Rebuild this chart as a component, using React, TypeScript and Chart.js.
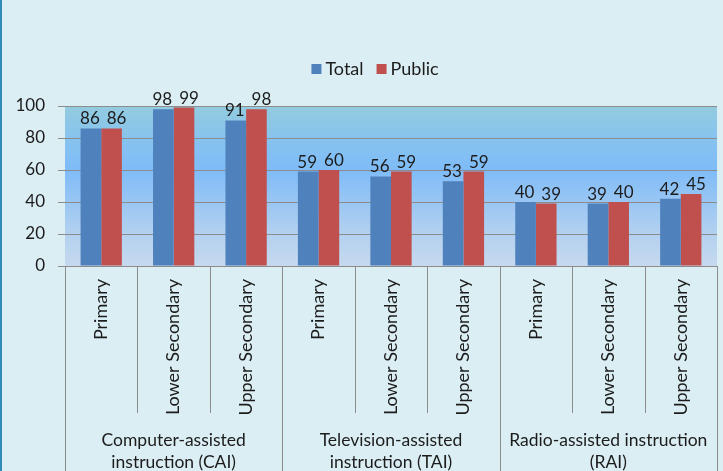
import React, { useEffect, useRef } from 'react';
import { Chart, registerables } from 'chart.js';

Chart.register(...registerables);

const groupLabels: string[][] = [
  ['Computer-assisted', 'instruction (CAI)'],
  ['Television-assisted', 'instruction (TAI)'],
  ['Radio-assisted instruction', '(RAI)'],
];
const levelLabels: string[] = ['Primary', 'Lower Secondary', 'Upper Secondary'];
const categories: string[] = groupLabels.flatMap(() => levelLabels);
const totalValues: number[] = [86, 98, 91, 59, 56, 53, 40, 39, 42];
const publicValues: number[] = [86, 99, 98, 60, 59, 59, 39, 40, 45];
const seriesNames: string[] = ['Total', 'Public'];
const seriesColors: string[] = ['#4f81bd', '#c0504d'];
const yMin = 0;
const yMax = 100;
const yStep = 20;

const FONT = 'Lato, "Open Sans", sans-serif';
const TEXT = '#1c1c1c';
const LINE = '#8c8c8c';

const plotBg = {
  id: 'plotBg',
  beforeDraw(chart: any) {
    const { ctx, chartArea: a } = chart;
    const g = ctx.createLinearGradient(0, a.top, 0, a.bottom);
    g.addColorStop(0, '#93cbde');
    g.addColorStop(0.2, '#87c3ee');
    g.addColorStop(0.4, '#7fbcf8');
    g.addColorStop(0.6, '#99c6f3');
    g.addColorStop(0.8, '#b3d1f0');
    g.addColorStop(1, '#c6d9ee');
    ctx.save();
    ctx.fillStyle = g;
    ctx.fillRect(a.left, a.top, a.right - a.left, a.bottom - a.top);
    ctx.restore();
  },
};

const customLegend = {
  id: 'customLegend',
  afterDraw(chart: any) {
    const { ctx } = chart;
    ctx.save();
    ctx.font = `18px ${FONT}`;
    ctx.textBaseline = 'middle';
    ctx.textAlign = 'left';
    const box = 10;
    const gap = 4;
    const spacing = 13;
    const items = chart.data.datasets.map((ds: any) => ({
      label: ds.label,
      color: ds.backgroundColor,
      w: box + gap + ctx.measureText(ds.label).width,
    }));
    const total = items.reduce((s: number, it: any) => s + it.w, 0) + spacing * (items.length - 1);
    const cx = 373;
    const cy = 69;
    let x = cx - total / 2;
    items.forEach((it: any) => {
      ctx.fillStyle = it.color;
      ctx.fillRect(x, cy - box / 2, box, box);
      ctx.fillStyle = TEXT;
      ctx.fillText(it.label, x + box + gap, cy);
      x += it.w + spacing;
    });
    ctx.restore();
  },
};

const axisGroups = {
  id: 'axisGroups',
  afterDraw(chart: any) {
    const { ctx, chartArea: a, scales } = chart;
    const x = scales.x;
    const n = categories.length;
    const step = (a.right - a.left) / n;
    ctx.save();
    ctx.strokeStyle = LINE;
    ctx.lineWidth = 1;
    for (let i = 0; i <= n; i++) {
      const px = Math.round(x.getPixelForValue(0) - step / 2 + i * step) + 0.5;
      const isGroup = i % levelLabels.length === 0;
      ctx.beginPath();
      ctx.moveTo(px, a.bottom);
      ctx.lineTo(px, isGroup ? chart.height : a.bottom + 147);
      ctx.stroke();
    }
    ctx.fillStyle = TEXT;
    ctx.font = `17.5px ${FONT}`;
    ctx.textAlign = 'center';
    ctx.textBaseline = 'middle';
    groupLabels.forEach((lines, gi) => {
      const start = x.getPixelForValue(gi * levelLabels.length) - step / 2;
      const cx = start + (step * levelLabels.length) / 2;
      lines.forEach((t, li) => {
        ctx.fillText(t, cx, a.bottom + 174 + li * 22);
      });
    });
    ctx.restore();
  },
};

const dataLabels = {
  id: 'dataLabels',
  afterDatasetsDraw(chart: any) {
    const { ctx } = chart;
    ctx.save();
    ctx.fillStyle = TEXT;
    ctx.font = `17px ${FONT}`;
    ctx.textAlign = 'center';
    ctx.textBaseline = 'bottom';
    chart.data.datasets.forEach((ds: any, di: number) => {
      const meta = chart.getDatasetMeta(di);
      const dx = di === 0 ? -1 : 5;
      meta.data.forEach((bar: any, i: number) => {
        ctx.fillText(String(ds.data[i]), bar.x + dx, bar.y - 1);
      });
    });
    ctx.restore();
  },
};

export default function App() {
  const ref = useRef<HTMLCanvasElement>(null);
  useEffect(() => {
    const canvas = ref.current!;
    const chart = new Chart(canvas, {
      type: 'bar',
      data: {
        labels: categories,
        datasets: seriesNames.map((name, i) => ({
          label: name,
          data: i === 0 ? totalValues : publicValues,
          backgroundColor: seriesColors[i],
          borderWidth: 0,
          categoryPercentage: 0.57,
          barPercentage: 1,
        })),
      },
      options: {
        animation: false,
        responsive: false,
        layout: { padding: { top: 106, right: 6, bottom: 0, left: 0 } },
        plugins: {
          legend: { display: false },
          tooltip: { enabled: false },
        },
        scales: {
          x: {
            grid: { display: false },
            border: { display: false },
            ticks: {
              minRotation: 90,
              maxRotation: 90,
              padding: 5,
              color: TEXT,
              font: { family: FONT, size: 18 },
            },
            afterFit: (s: any) => {
              s.height = 205;
            },
          },
          y: {
            min: yMin,
            max: yMax,
            ticks: {
              stepSize: yStep,
              padding: 13,
              color: TEXT,
              font: { family: FONT, size: 17 },
            },
            grid: { color: LINE, lineWidth: 1, tickLength: 7 },
            border: { display: false },
            afterFit: (s: any) => {
              s.width = 63;
            },
          },
        },
      },
      plugins: [plotBg, dataLabels, axisGroups, customLegend],
    });
    return () => chart.destroy();
  }, []);
  return (
    <div
      style={{
        position: 'fixed',
        left: 0,
        top: 0,
        width: 723,
        height: 471,
        boxSizing: 'border-box',
        background: '#dbeef4',
        borderLeft: '2px solid #2f8db5',
      }}
    >
      <canvas ref={ref} width={721} height={471} style={{ display: 'block' }} />
    </div>
  );
}
